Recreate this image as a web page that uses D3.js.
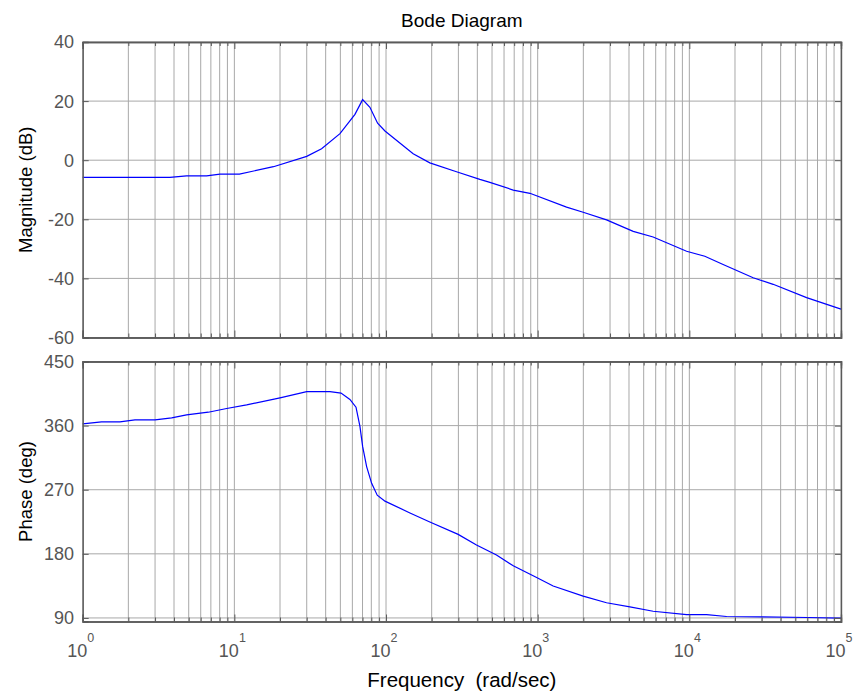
<!DOCTYPE html>
<html>
<head>
<meta charset="utf-8">
<script src="https://cdn.jsdelivr.net/npm/d3@7"></script>
<style>
  html, body { margin: 0; padding: 0; background: #fff; }
  text { font-family: "Liberation Sans", Arial, Helvetica, sans-serif; }
</style>
</head>
<body>
<svg id="chart" width="858" height="697"></svg>
<script>
// ---- data ----
const magFreq = [1, 3.76, 4.84, 6.56, 8.04, 10.8, 18.1, 30, 37.6, 49.7, 62.4, 70.1, 78.3, 88, 98.4, 151, 194.5, 291.5, 415.6, 484, 690, 889, 1550, 1995, 2845, 4265, 5770, 9590, 12650, 16700, 26360, 35700, 59300, 100000];
const magDb   = [-5.8, -5.8, -5.3, -5.3, -4.7, -4.7, -2.2, 1.3, 3.9, 9.0, 15.5, 20.5, 17.9, 12.5, 9.9, 2.2, -0.9, -3.9, -6.5, -7.5, -10.1, -11.2, -15.9, -17.6, -20.2, -24.1, -26.0, -30.8, -32.5, -35.3, -39.8, -42.0, -46.5, -50.4];

const phaseFreq = [1, 1.33, 1.76, 2.21, 3.0, 3.86, 4.84, 6.73, 8.9, 12.05, 20, 30, 42.7, 50.5, 57.8, 63.4, 67.3, 70.1, 74.5, 80.4, 87.5, 98.4, 143.8, 194.5, 299, 395, 535, 690, 984, 1265, 1995, 2845, 4055, 5770, 9590, 13000, 17600, 30000, 60000, 100000];
const phaseDeg  = [362.4, 365.2, 365.2, 368, 368, 370.8, 375.1, 378.8, 384, 389.2, 399, 407.6, 407.6, 405.7, 396.8, 385.9, 359, 330.8, 302.5, 279, 262.4, 254, 237.4, 224.7, 207.3, 192.5, 178.3, 163.2, 146.7, 134.9, 120.7, 111.3, 105.6, 99.4, 94.7, 94.7, 92.0, 91.6, 90.6, 89.6];

const magTicks = [-60, -40, -20, 0, 20, 40];
const phaseTicks = [90, 180, 270, 360, 450];
const decadeTicks = [1, 10, 100, 1000, 10000, 100000];
const decadeExp = ["0", "1", "2", "3", "4", "5"];

const titleText = "Bode Diagram";
const magLabel = "Magnitude (dB)";
const phaseLabel = "Phase (deg)";
const xLabel = "Frequency  (rad/sec)";

// ---- layout ----
const svg = d3.select("#chart");
const left = 82.7, right = 841;
const x = d3.scaleLog().domain([1, 1e5]).range([left, right]);

const yMag = d3.scaleLinear().domain([-60, 40]).range([337.5, 42]);
const yPh = d3.scaleLinear().domain([85, 450]).range([621.5, 361.5]);

// minor tick locations
const minorTicks = [];
for (let e = 0; e < 5; e++) {
  for (let m = 2; m <= 9; m++) minorTicks.push(m * Math.pow(10, e));
}

const gridColor = "#a8a8a8";
const axisColor = "#5a5a5a";
const labelColor = "#555555";

function panel(y, yTicks, xs, ys) {
  const g = svg.append("g");
  const [yb, yt] = y.range();
  g.selectAll(".vg").data(minorTicks.concat(decadeTicks)).enter().append("line")
    .attr("x1", d => x(d)).attr("x2", d => x(d))
    .attr("y1", yt).attr("y2", yb)
    .attr("stroke", gridColor).attr("stroke-width", 1);
  g.selectAll(".hg").data(yTicks).enter().append("line")
    .attr("x1", left).attr("x2", right)
    .attr("y1", d => y(d)).attr("y2", d => y(d))
    .attr("stroke", gridColor).attr("stroke-width", 1);
  const line = d3.line().x(d => x(d[0])).y(d => y(d[1])).curve(d3.curveLinear);
  g.append("path").datum(xs.map((f, i) => [f, ys[i]]))
    .attr("d", line).attr("fill", "none")
    .attr("stroke", "#0000ff").attr("stroke-width", 1.2);
  const axB = d3.axisTop(x).tickValues(minorTicks).tickSize(4).tickFormat("");
  const axB2 = d3.axisTop(x).tickValues(decadeTicks).tickSize(7).tickFormat("");
  const axT = d3.axisBottom(x).tickValues(minorTicks).tickSize(4).tickFormat("");
  const axT2 = d3.axisBottom(x).tickValues(decadeTicks).tickSize(7).tickFormat("");
  const axL = d3.axisRight(y).tickValues(yTicks).tickSize(6).tickFormat("");
  const axR = d3.axisLeft(y).tickValues(yTicks).tickSize(6).tickFormat("");
  [[axB, `translate(0,${yb})`], [axB2, `translate(0,${yb})`],
   [axT, `translate(0,${yt})`], [axT2, `translate(0,${yt})`],
   [axL, `translate(${left},0)`], [axR, `translate(${right},0)`]].forEach(([a, t]) => {
    const ga = g.append("g").attr("transform", t).call(a);
    ga.selectAll("path").attr("stroke", axisColor).attr("stroke-width", 1.4);
    ga.selectAll("line").attr("stroke", axisColor).attr("stroke-width", 1);
  });
  g.selectAll(".yl").data(yTicks).enter().append("text")
    .attr("x", 74).attr("y", d => y(d)).attr("dy", "0.36em")
    .attr("text-anchor", "end").attr("font-size", 18).attr("fill", labelColor)
    .text(d => d);
}

panel(yMag, magTicks, magFreq, magDb);
panel(yPh, phaseTicks, phaseFreq, phaseDeg);

const xl = svg.append("g");
decadeTicks.forEach((d, i) => {
  const t = xl.append("text")
    .attr("x", x(d) - 2).attr("y", 656.5)
    .attr("text-anchor", "middle").attr("font-size", 18).attr("fill", labelColor);
  t.append("tspan").text("10");
  t.append("tspan").attr("dy", -14.5).attr("font-size", 12.5).text(decadeExp[i]);
});

svg.append("text").attr("x", (left + right) / 2).attr("y", 27.3)
  .attr("text-anchor", "middle").attr("font-size", 19).attr("fill", "#000").text(titleText);
svg.append("text").attr("x", (left + right) / 2).attr("y", 687)
  .attr("text-anchor", "middle").attr("font-size", 20.5).attr("fill", "#000")
  .attr("xml:space", "preserve").style("white-space", "pre").text(xLabel);
svg.append("text").attr("transform", `translate(32,${(yMag(-60) + yMag(40)) / 2}) rotate(-90)`)
  .attr("text-anchor", "middle").attr("font-size", 18.5).attr("fill", "#000").text(magLabel);
svg.append("text").attr("transform", `translate(32,${(yPh(85) + yPh(450)) / 2}) rotate(-90)`)
  .attr("text-anchor", "middle").attr("font-size", 18.5).attr("fill", "#000").text(phaseLabel);
</script>
</body>
</html>
